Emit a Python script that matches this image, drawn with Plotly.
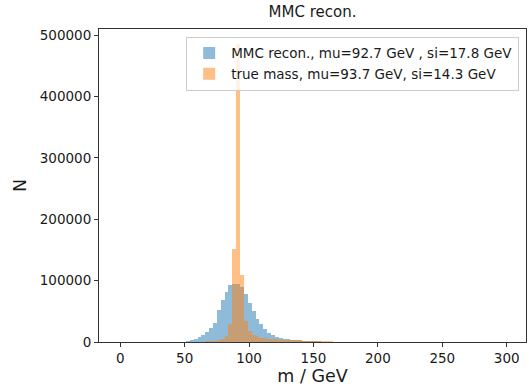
import numpy as np
import plotly.graph_objects as go

# histogram bins: 3 GeV wide, lower edges from 45 GeV (all other bins in 0-300 are ~empty)
bin_width = 3
bin_low = list(range(45, 165, 3))

mmc_counts = [300, 600, 1500, 3000, 5500, 8000, 11500, 16000, 23000, 31000,
              52000, 68000, 81000, 93000, 95000, 95000, 89000, 79000, 63000, 50000,
              38000, 29000, 21000, 15000, 11500, 8800, 6800, 5400, 4400, 3600,
              3000, 2500, 2100, 1700, 1400, 1100, 900, 700, 500, 300]

true_counts = [0, 0, 0, 0, 200, 400, 700, 1000, 1500, 2000,
               3000, 5000, 10000, 30000, 151000, 485000, 109000, 35000, 18000, 12000,
               9000, 7000, 6000, 5200, 4600, 4200, 3800, 3500, 3200, 3000,
               2800, 2600, 2400, 2200, 2000, 1800, 1600, 1400, 1200, 1000]

centers = [b + bin_width / 2 for b in bin_low]

fig = go.Figure()
fig.add_trace(go.Bar(
    x=centers, y=mmc_counts, width=bin_width,
    name="MMC recon., mu=92.7 GeV , si=17.8 GeV",
    marker=dict(color="rgba(31,119,180,0.5)", line=dict(width=0)),
))
fig.add_trace(go.Bar(
    x=centers, y=true_counts, width=bin_width,
    name="true mass, mu=93.7 GeV, si=14.3 GeV",
    marker=dict(color="rgba(255,127,14,0.5)", line=dict(width=0)),
))

font = "DejaVu Sans"
fig.update_layout(
    width=529, height=387,
    margin=dict(l=99, r=3, t=29, b=45),
    paper_bgcolor="white", plot_bgcolor="white",
    barmode="overlay", bargap=0,
    font=dict(family=font, size=13, color="#1a1a1a"),
    title=dict(text="MMC recon.", x=0.5, xref="paper", xanchor="center",
               y=1 - 12 / 387, yanchor="middle",
               font=dict(family=font, size=15, color="#1a1a1a")),
    legend=dict(x=0.984, y=0.975, xanchor="right", yanchor="top",
                bgcolor="rgba(255,255,255,0.8)", bordercolor="#cccccc", borderwidth=1,
                font=dict(family=font, size=13.5, color="#1a1a1a"),
                tracegroupgap=0, itemwidth=34),
    showlegend=True,
)
fig.update_xaxes(
    range=[-16.5, 315], tickvals=[0, 50, 100, 150, 200, 250, 300],
    showline=True, linecolor="#333", linewidth=1, mirror=True,
    ticks="outside", ticklen=4, tickcolor="#333", showgrid=False, zeroline=False,
    tickfont=dict(family=font, size=13.5),
    title=dict(text="m / GeV", font=dict(family=font, size=17.5), standoff=4),
)
fig.update_yaxes(
    range=[0, 510000], tickvals=[0, 100000, 200000, 300000, 400000, 500000],
    ticktext=["0", "100000", "200000", "300000", "400000", "500000"],
    showline=True, linecolor="#333", linewidth=1, mirror=True,
    ticks="outside", ticklen=4, tickcolor="#333", showgrid=False, zeroline=False,
    tickfont=dict(family=font, size=13.5),
    title=dict(text="N", font=dict(family=font, size=17.5), standoff=8),
)
fig.write_html("out.html")
